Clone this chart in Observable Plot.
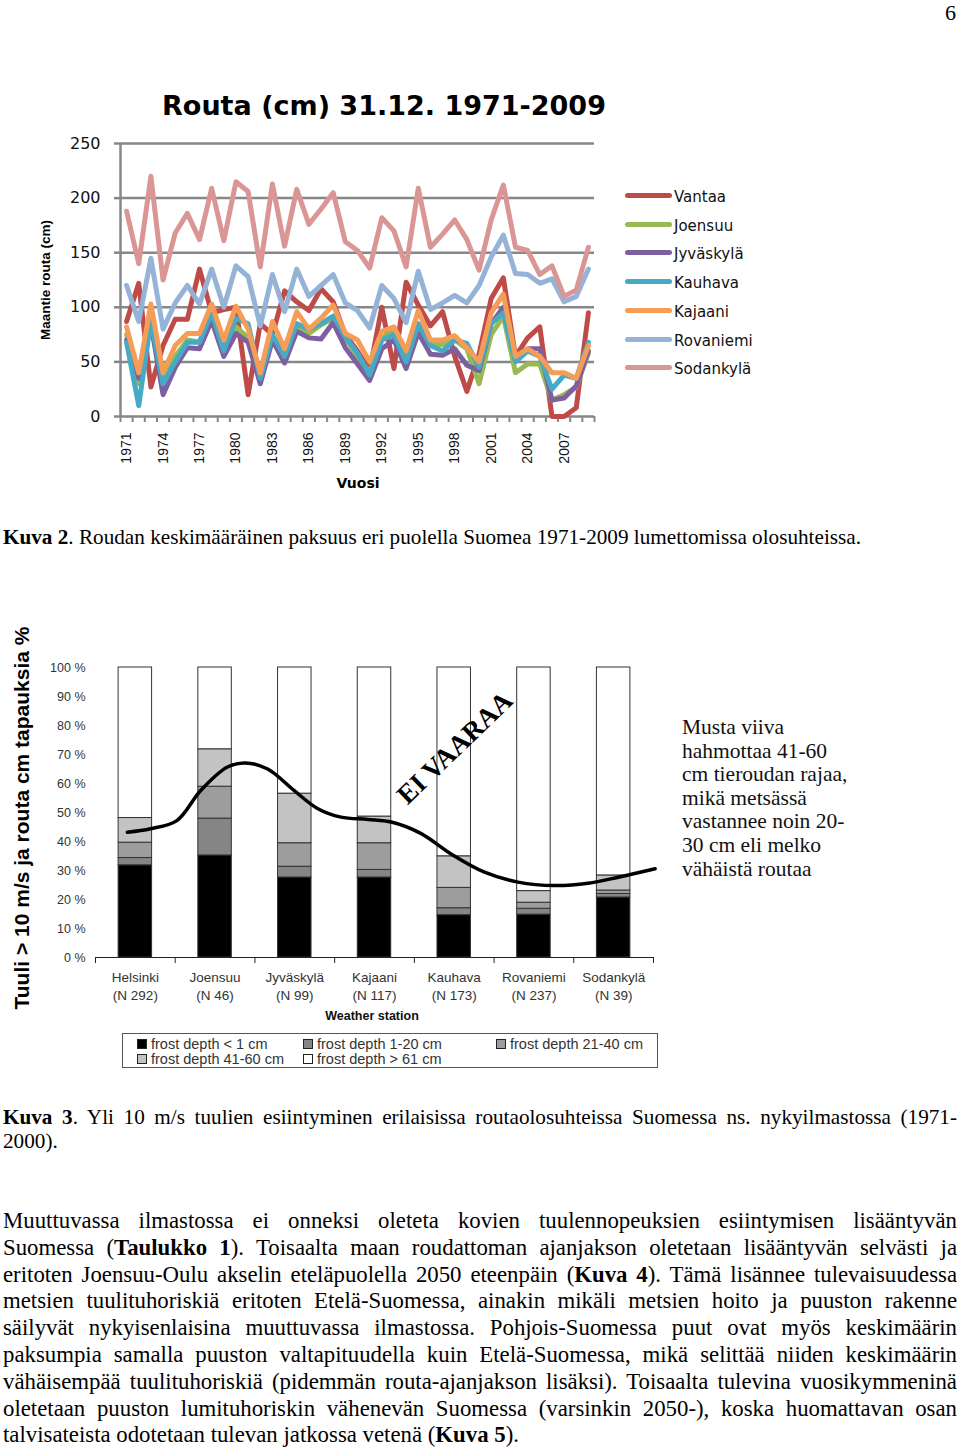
<!DOCTYPE html>
<html>
<head>
<meta charset="utf-8">
<script src="https://cdn.jsdelivr.net/npm/d3@7"></script>
<script src="https://cdn.jsdelivr.net/npm/@observablehq/plot@0.6"></script>
<style>
  html, body { margin: 0; padding: 0; background: #fff; }
  #page { position: relative; width: 960px; height: 1448px; overflow: hidden; background: #fff; }
  .abs { position: absolute; }
  .serif { font-family: "Liberation Serif", "Times New Roman", serif; color: #000; }
  .jline { text-align: justify; text-align-last: justify; height: 26.8px; line-height: 26.8px; white-space: nowrap; }
  .lline { text-align: left; height: 26.8px; line-height: 26.8px; white-space: nowrap; }
  #legend1 div { position: absolute; left: 0; height: 20px; line-height: 20px; font-family: "DejaVu Sans", sans-serif; font-size: 15px; color: #111; white-space: nowrap; }
  #legend1 span.sw { display: inline-block; width: 47px; height: 5px; border-radius: 3px; vertical-align: middle; margin-right: 2px; position: relative; top: -2px; }
  #legend2 .item { position: absolute; font-family: "Liberation Sans", Arial, sans-serif; font-size: 14.5px; color: #333; white-space: nowrap; line-height: 15px; }
  #legend2 .sq { display: inline-block; width: 8px; height: 8px; border: 1px solid #222; margin-right: 4px; vertical-align: middle; position: relative; top: -1px; }
</style>
</head>
<body>
<div id="page">
  <div class="abs serif" style="right:4px; top:0px; font-size:22px;">6</div>

  <div class="abs" id="title1" style="left:0; width:768px; top:90px; text-align:center; font-family:'DejaVu Sans',sans-serif; font-weight:bold; font-size:27px; color:#000;">Routa (cm) 31.12. 1971-2009</div>
  <div class="abs" style="left:45px; top:280px; transform: translate(-50%,-50%) rotate(-90deg); font-family:'Liberation Sans',Arial,sans-serif; font-weight:bold; font-size:13.5px; white-space:nowrap; color:#000;">Maantie routa (cm)</div>
  <div class="abs" id="chart1" style="left:0; top:130px;"></div>
  <div class="abs" id="legend1" style="left:625px; top:0;"></div>
  <div class="abs" style="left:358px; top:483px; transform: translate(-50%,-50%); font-family:'DejaVu Sans',sans-serif; font-weight:bold; font-size:14px; color:#000;">Vuosi</div>

  <div class="abs serif" style="left:3px; top:524px; width:954px; font-size:21.2px; line-height:26.8px; white-space:nowrap;"><b>Kuva 2</b>. Roudan keskimääräinen paksuus eri puolella Suomea 1971-2009 lumettomissa olosuhteissa.</div>

  <div class="abs" style="left:22px; top:818px; transform: translate(-50%,-50%) rotate(-90deg); font-family:'Liberation Sans',Arial,sans-serif; font-weight:bold; font-size:21px; white-space:nowrap; color:#000;">Tuuli &gt; 10 m/s ja routa cm tapauksia %</div>
  <div class="abs" id="chart2" style="left:0; top:645px;"></div>
  <div class="abs" style="left:455px; top:748px; transform: translate(-50%,-50%) rotate(-44deg); font-family:'Liberation Serif',serif; font-weight:bold; font-size:27px; white-space:nowrap; color:#000;">EI VAARAA</div>
  <div class="abs serif" style="left:682px; top:716px; font-size:21.5px; line-height:23.6px; white-space:nowrap; color:#111;">Musta viiva<br>hahmottaa 41-60<br>cm tieroudan rajaa,<br>mikä metsässä<br>vastannee noin 20-<br>30 cm eli melko<br>vähäistä routaa</div>
  <div class="abs" style="left:372px; top:1016px; transform: translate(-50%,-50%); font-family:'Liberation Sans',Arial,sans-serif; font-weight:bold; font-size:12.5px; color:#111; white-space:nowrap;">Weather station</div>
  <div class="abs" id="legend2" style="left:122px; top:1033px; width:534px; height:33px; border:1px solid #555;"></div>

  <div class="abs serif" style="left:3px; top:1105px; width:954px; font-size:21.2px;">
    <div class="jline" style="height:24px; line-height:24px;"><b>Kuva 3</b>. Yli 10 m/s tuulien esiintyminen erilaisissa routaolosuhteissa Suomessa ns. nykyilmastossa (1971-</div>
    <div class="lline" style="height:24px; line-height:24px;">2000).</div>
  </div>

  <div class="abs serif" style="left:3px; top:1208px; width:954px; font-size:22.8px;">
    <div class="jline">Muuttuvassa ilmastossa ei onneksi oleteta kovien tuulennopeuksien esiintymisen lisääntyvän</div>
    <div class="jline">Suomessa (<b>Taulukko 1</b>). Toisaalta maan roudattoman ajanjakson oletetaan lisääntyvän selvästi ja</div>
    <div class="jline">eritoten Joensuu-Oulu akselin eteläpuolella 2050 eteenpäin (<b>Kuva 4</b>). Tämä lisännee tulevaisuudessa</div>
    <div class="jline">metsien tuulituhoriskiä eritoten Etelä-Suomessa, ainakin mikäli metsien hoito ja puuston rakenne</div>
    <div class="jline">säilyvät nykyisenlaisina muuttuvassa ilmastossa. Pohjois-Suomessa puut ovat myös keskimäärin</div>
    <div class="jline">paksumpia samalla puuston valtapituudella kuin Etelä-Suomessa, mikä selittää niiden keskimäärin</div>
    <div class="jline">vähäisempää tuulituhoriskiä (pidemmän routa-ajanjakson lisäksi). Toisaalta tulevina vuosikymmeninä</div>
    <div class="jline">oletetaan puuston lumituhoriskin vähenevän Suomessa (varsinkin 2050-), koska huomattavan osan</div>
    <div class="lline">talvisateista odotetaan tulevan jatkossa vetenä (<b>Kuva 5</b>).</div>
  </div>
</div>

<script>
// ---------- Chart 1 data: frost depth (cm) on 31.12., 1971-2009 ----------
const years = [1971,1972,1973,1974,1975,1976,1977,1978,1979,1980,1981,1982,1983,1984,1985,1986,1987,1988,1989,1990,
               1991,1992,1993,1994,1995,1996,1997,1998,1999,2000,2001,2002,2003,2004,2005,2006,2007,2008,2009];
const yearLabels = [1971,1974,1977,1980,1983,1986,1989,1992,1995,1998,2001,2004,2007];
const routaTicks = [0,50,100,150,200,250];

const seriesNames  = ["Vantaa","Joensuu","Jyväskylä","Kauhava","Kajaani","Rovaniemi","Sodankylä"];
const seriesColors = ["#BE4B48","#98B954","#7D60A0","#46AAC5","#F59D56","#95B3D7","#D99694"];

const vantaa    = [87,122,27,65,89,89,135,95,98,100, 20,85,75,115,105,97,117,105,75,60, 42,100,44,123,102,83,96,55,23,57, 108,127,55,72,82,0,0,8,95];
const joensuu   = [75,30,90,35,55,70,68,96,63,82, 72,38,73,55,82,76,84,90,72,55, 40,72,78,52,84,66,66,70,62,30, 75,92,40,48,48,15,20,27,58];
const jyvaskyla = [70,35,85,20,45,63,62,88,55,76, 68,30,70,49,78,72,71,86,63,48, 33,62,70,44,77,57,56,62,47,42, 85,100,55,62,62,15,17,28,60];
const kauhava   = [68,10,88,30,50,68,68,95,60,90, 85,35,75,55,85,80,85,92,73,58, 38,70,75,50,85,65,60,70,67,45, 85,95,50,60,55,25,38,35,68];
const kajaani   = [82,40,103,40,65,76,76,103,70,101, 80,40,87,62,96,80,90,102,76,70, 50,78,82,60,97,70,70,74,63,50, 95,112,55,62,55,40,40,35,65];
const rovaniemi = [120,87,145,80,104,120,103,135,100,138, 128,83,130,96,135,110,120,130,104,97, 81,120,108,86,133,98,104,111,104,120, 146,166,131,130,122,126,105,110,135];
const sodankyla = [188,140,220,125,168,186,162,209,161,215, 206,137,213,156,208,176,190,205,160,152, 136,182,170,137,209,155,167,180,162,134, 180,212,155,152,130,138,110,116,155];
const seriesValues = [vantaa, joensuu, jyvaskyla, kauhava, kajaani, rovaniemi, sodankyla];

// ---------- Chart 2 data: share of >10 m/s wind cases by frost depth (%) ----------
const stations = ["Helsinki","Joensuu","Jyväskylä","Kajaani","Kauhava","Rovaniemi","Sodankylä"];
const stationN = ["(N 292)","(N 46)","(N 99)","(N 117)","(N 173)","(N 237)","(N 39)"];
const depthClasses = ["frost depth < 1 cm","frost depth 1-20 cm","frost depth 21-40 cm","frost depth 41-60 cm","frost depth > 61 cm"];
const depthColors  = ["#000000","#858585","#9d9d9d","#c3c3c3","#ffffff"];
const lt1   = [31.8, 35.2, 27.6, 27.6, 14.6, 14.8, 20.7];
const d1_20 = [ 2.5, 12.7,  3.7,  2.6,  2.4,  2.0,  1.2];
const d21_40= [ 5.3, 11.0,  8.1,  9.2,  7.0,  2.1,  1.2];
const d41_60= [ 8.5, 12.9, 17.1,  9.2, 10.9,  4.0,  5.2];
const gt61  = [51.9, 28.2, 43.5, 51.4, 65.1, 77.1, 71.7];
const pctTicks = [0,10,20,30,40,50,60,70,80,90,100];
// black line ("Musta viiva"): position along station axis (station index) and %
const curvePos = [-0.10, 0.19, 0.52, 0.82, 1.15, 1.38, 1.66, 1.99, 2.29, 2.58, 2.92, 3.21, 3.58, 3.96, 4.38, 4.80, 5.26, 5.68, 6.06, 6.52];
const curvePct = [43.2, 44.4, 47.2, 57.6, 65.6, 67.1, 65.0, 57.6, 51.3, 48.4, 47.6, 46.7, 42.8, 35.7, 29.4, 26.0, 24.8, 25.6, 27.7, 30.6];

// ---------- Build chart 1 ----------
const rows1 = [];
seriesNames.forEach((name, k) => seriesValues[k].forEach((v, i) => rows1.push({year: years[i], value: v, station: name})));
const yearBounds = years.map(y => y - 0.5).concat([years[years.length - 1] + 0.5]);

const chart1 = Plot.plot({
  width: 600, height: 370,
  marginLeft: 120, marginRight: 6, marginTop: 13, marginBottom: 84,
  style: {fontFamily: "'DejaVu Sans', sans-serif", background: "transparent", overflow: "visible"},
  x: {domain: [yearBounds[0], yearBounds[yearBounds.length - 1]]},
  y: {domain: [0, 250]},
  color: {domain: seriesNames, range: seriesColors},
  marks: [
    Plot.ruleY(routaTicks, {stroke: "#878787", strokeWidth: 2.5}),
    Plot.ruleX([yearBounds[0]], {stroke: "#878787", strokeWidth: 2.5}),
    Plot.axisY({ticks: routaTicks, tickSize: 6, tickPadding: 14, stroke: "#878787", strokeWidth: 2.5, label: null, fontSize: 16, fill: "#111"}),
    Plot.axisX({ticks: yearBounds, tickSize: 6, stroke: "#878787", strokeWidth: 2, tickFormat: () => "", label: null}),
    Plot.axisX({ticks: yearLabels, tickSize: 0, tickPadding: 16, tickRotate: -90, tickFormat: d => String(d), label: null,
                fontSize: 14, fill: "#111", fontFamily: "'Liberation Sans', Arial, sans-serif"}),
    Plot.line(rows1, {x: "year", y: "value", z: "station", stroke: "station", strokeWidth: 5, strokeLinejoin: "round", strokeLinecap: "round"})
  ]
});
document.getElementById("chart1").appendChild(chart1);

// legend 1
const leg1 = document.getElementById("legend1");
const legTop0 = 197, legStep = 28.7;
seriesNames.forEach((name, k) => {
  const d = document.createElement("div");
  d.style.top = (legTop0 + k * legStep - 10) + "px";
  d.innerHTML = `<span class="sw" style="background:${seriesColors[k]}"></span>${name}`;
  leg1.appendChild(d);
});

// ---------- Build chart 2 ----------
const segArrays = [lt1, d1_20, d21_40, d41_60, gt61];
const rows2 = [];
stations.forEach((s, i) => {
  let acc = 0;
  segArrays.forEach((arr, k) => {
    const y1 = acc, y2 = Math.min(100, acc + arr[i]);
    acc = y2;
    rows2.push({idx: i, x1: i - 0.21, x2: i + 0.21, y1, y2, cls: depthClasses[k]});
  });
});
const curveRows = curvePos.map((p, i) => ({p, v: curvePct[i]}));
const stationBounds = stations.map((s, i) => i - 0.5).concat([stations.length - 0.5]);

const chart2 = Plot.plot({
  width: 660, height: 362,
  marginLeft: 95, marginRight: 7, marginTop: 22, marginBottom: 50,
  style: {fontFamily: "'Liberation Sans', Arial, sans-serif", background: "transparent", overflow: "visible"},
  x: {domain: [stationBounds[0], stationBounds[stationBounds.length - 1]]},
  y: {domain: [0, 100]},
  color: {domain: depthClasses, range: depthColors},
  marks: [
    Plot.rect(rows2, {x1: "x1", x2: "x2", y1: "y1", y2: "y2", fill: "cls", stroke: "#333", strokeWidth: 1}),
    Plot.ruleY([0], {stroke: "#222", strokeWidth: 1.2}),
    Plot.axisY({ticks: pctTicks, tickSize: 0, tickPadding: 10, tickFormat: d => d + " %", label: null, fontSize: 12.5, fill: "#333"}),
    Plot.axisX({ticks: stationBounds, tickSize: 6, stroke: "#222", tickFormat: () => "", label: null}),
    Plot.axisX({ticks: stations.map((s, i) => i), tickSize: 0, tickPadding: 12, label: null, fontSize: 13.5, fill: "#333", lineHeight: 1.3,
                tickFormat: i => stations[i] + "\n" + stationN[i]}),
    Plot.line(curveRows, {x: "p", y: "v", curve: "catmull-rom", stroke: "#000", strokeWidth: 3.5, strokeLinecap: "round"})
  ]
});
document.getElementById("chart2").appendChild(chart2);

// legend 2
const leg2 = document.getElementById("legend2");
const legPos = [[14, 3], [180, 3], [373, 3], [14, 18], [180, 18]];
depthClasses.forEach((c, k) => {
  const d = document.createElement("div");
  d.className = "item";
  d.style.left = legPos[k][0] + "px";
  d.style.top = legPos[k][1] + "px";
  d.innerHTML = `<span class="sq" style="background:${depthColors[k]}"></span>${c}`;
  leg2.appendChild(d);
});
</script>
</body>
</html>
